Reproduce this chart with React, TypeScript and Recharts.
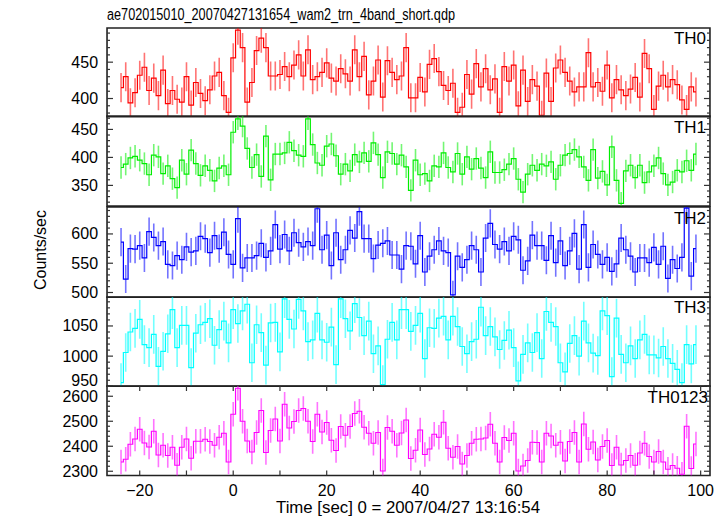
import { ComposedChart, Line, XAxis, YAxis, ErrorBar, ReferenceArea } from "recharts";

// bin centres [sec], 1 s bins
const times = [
  -24, -23, -22, -21, -20, -19, -18, -17, -16, -15, -14, -13, -12, -11, -10, -9, -8, -7, -6, -5, -4, -3, -2, -1,
  0, 1, 2, 3, 4, 5, 6, 7, 8, 9, 10, 11, 12, 13, 14, 15, 16, 17, 18, 19, 20, 21, 22, 23, 24, 25, 26, 27, 28, 29,
  30, 31, 32, 33, 34, 35, 36, 37, 38, 39, 40, 41, 42, 43, 44, 45, 46, 47, 48, 49, 50, 51, 52, 53, 54, 55, 56, 57,
  58, 59, 60, 61, 62, 63, 64, 65, 66, 67, 68, 69, 70, 71, 72, 73, 74, 75, 76, 77, 78, 79, 80, 81, 82, 83, 84, 85,
  86, 87, 88, 89, 90, 91, 92, 93, 94, 95, 96, 97, 98, 99,
];

const th0 = [
  415, 430, 394, 408, 432, 443, 411, 428, 404, 439, 393, 411, 399, 395, 430, 391, 422, 407, 397, 412, 431, 436, 404, 381,
  456, 494, 470, 395, 422, 466, 483, 470, 431, 431, 433, 444, 430, 446, 460, 431, 467, 426, 430, 436, 449, 428, 424, 441,
  434, 424, 467, 430, 458, 405, 424, 453, 402, 452, 436, 426, 431, 470,
  401, 401, 429, 409, 447, 455, 437, 418, 411, 421, 381, 388, 433, 406, 448, 416, 441, 412, 427, 381, 444, 424, 446, 390,
  439, 396, 426, 417, 377, 435, 396, 442, 453, 436, 424, 409, 416, 416, 463, 416, 422, 410, 446, 401, 426, 412, 404, 413,
  429, 402, 462, 441, 385, 417, 432, 416, 426, 419, 398, 385, 416, 409,
];
const th1 = [
  382, 388, 399, 402, 395, 389, 369, 404, 401, 371, 385, 362, 346, 395, 370, 413, 389, 368, 385, 377, 358, 381, 385, 369,
  445, 469, 456, 416, 382, 405, 366, 438, 360, 406, 406, 408, 427, 412, 404, 402, 469, 423, 390, 386, 420, 424, 403, 370,
  388, 376, 405, 392, 408, 393, 426, 405, 364, 410, 407, 388, 404, 383, 341,
  395, 369, 371, 358, 385, 383, 408, 382, 374, 407, 370, 401, 379, 398, 381, 364, 410, 373, 373, 378, 388, 398, 361, 338,
  370, 386, 377, 388, 385, 392, 361, 386, 404, 407, 414, 401, 383, 359, 414, 363, 375, 351, 419, 359, 318, 376, 386, 364,
  386, 355, 374, 385, 399, 371, 351, 356, 377, 374, 394, 377, 406,
];
const th2 = [
  586, 523, 575, 574, 580, 559, 604, 594, 580, 587, 548, 546, 563, 556, 578, 569, 571, 596, 592, 568, 597, 575, 603, 565,
  548, 626, 542, 559, 559, 563, 584, 560, 571, 616, 574, 599, 571, 602, 585, 578, 587, 580, 643, 573, 598, 546, 602, 556,
  573, 606, 593, 638, 592, 592, 558, 581, 584, 588, 564, 564, 540, 580,
  579, 549, 597, 535, 562, 573, 588, 571, 568, 496, 562, 543, 556, 580, 573, 535, 593, 618, 582, 574, 587, 571, 596, 590,
  538, 554, 598, 580, 580, 555, 597, 551, 588, 546, 571, 601, 540, 616, 543, 582, 565, 548, 560, 536, 549, 593, 573, 562,
  535, 559, 559, 551, 577, 548, 579, 524, 556, 541, 560, 644, 528, 575,
];
const th3 = [
  956, 1006, 1040, 1046, 1061, 1019, 1014, 1036, 983, 1008, 1037, 1077, 1014, 1051, 1051, 981, 1038, 1052, 1056, 1062, 1018, 1044, 1058, 1022,
  1077, 1054, 1075, 1086, 989, 1052, 1039, 985, 1055, 1056, 1007, 1095, 1061, 1045, 1094, 1075, 1024, 1027, 1071, 1027, 1023, 1048, 986, 1095,
  1062, 1042, 1087, 1064, 1034, 1058, 1004, 1017, 953, 1028, 1056, 1027, 1077, 1077,
  1041, 1051, 1071, 996, 1047, 1046, 1063, 1066, 1027, 1066, 1049, 1016, 1004, 1024, 1028, 1081, 1034, 1049, 1032, 1011, 1026, 1043, 1014, 959,
  1003, 1022, 1006, 1039, 996, 1074, 1056, 1049, 989, 974, 1021, 1034, 1000, 1058, 1022, 1005, 1001, 1075, 1067, 966, 1063, 1003, 989, 1017,
  996, 1027, 1036, 1002, 1002, 997, 1016, 996, 988, 978, 956, 1019, 987, 1019,
];
const th0123 = [
  2337, 2348, 2408, 2429, 2468, 2413, 2397, 2460, 2365, 2404, 2363, 2396, 2324, 2396, 2429, 2352, 2420, 2420, 2428, 2419, 2404, 2436, 2452, 2337,
  2528, 2632, 2500, 2421, 2377, 2455, 2543, 2375, 2463, 2509, 2421, 2568, 2473, 2499, 2543, 2551, 2500, 2419, 2528, 2457, 2495, 2424, 2383, 2479,
  2444, 2479, 2531, 2540, 2476, 2452, 2412, 2455, 2301, 2475, 2460, 2404, 2453, 2505,
  2351, 2384, 2465, 2367, 2389, 2448, 2436, 2496, 2392, 2356, 2399, 2329, 2363, 2412, 2428, 2429, 2433, 2488, 2412, 2337, 2435, 2423, 2452, 2301,
  2321, 2343, 2416, 2415, 2337, 2452, 2441, 2404, 2416, 2341, 2419, 2455, 2337, 2489, 2388, 2417, 2345, 2399, 2423, 2323, 2396, 2325, 2343, 2363,
  2324, 2373, 2412, 2359, 2337, 2379, 2337, 2308, 2323, 2312, 2288, 2480, 2311, 2409,
];

// typical 1-sigma error per band (counts/sec)
const th0Err = 20;
const th1Err = 20;
const th2Err = 24;
const th3Err = 32;
const th0123Err = 49;

const xTicks = [-20, -10, 0, 10, 20, 30, 40, 50, 60, 70, 80, 90, 100];
const xLabelTicks = [-20, 0, 20, 40, 60, 80, 100];

const th0Major = [400, 450];
const th0Minor = [380, 390, 400, 410, 420, 430, 440, 450, 460, 470, 480, 490];
const th1Major = [350, 400, 450];
const th1Minor = [320, 330, 340, 350, 360, 370, 380, 390, 400, 410, 420, 430, 440, 450, 460, 470];
const th2Major = [500, 550, 600];
const th2Minor = [500, 510, 520, 530, 540, 550, 560, 570, 580, 590, 600, 610, 620, 630, 640];
const th3Major = [950, 1000, 1050];
const th3Minor = [950, 960, 970, 980, 990, 1000, 1010, 1020, 1030, 1040, 1050, 1060, 1070, 1080, 1090];
const th0123Major = [2300, 2400, 2500, 2600];
const th0123Minor = [2300, 2320, 2340, 2360, 2380, 2400, 2420, 2440, 2460, 2480, 2500, 2520, 2540, 2560, 2580, 2600, 2620, 2640];

const X_DOMAIN: [number, number] = [-27, 102];
const PLOT_LEFT = 107;
const PLOT_RIGHT = 710;
const PLOT_W = PLOT_RIGHT - PLOT_LEFT;
const PAD = 10;
const FONT = "'Liberation Sans', Arial, Helvetica, sans-serif";

// panel frames: top edge and plot height, top to bottom
const panelTops = [27.7, 116.4, 206.5, 296.7, 386];
const panelHeights = [88.7, 90.1, 90.2, 89.3, 89.5];

interface PanelProps {
  idx: number;
  color: string;
  values: number[];
  err: number;
  domain: [number, number];
  majors: number[];
  minors: number[];
  showX?: boolean;
}

const Panel = ({ idx, color, values, err, domain, majors, minors, showX }: PanelProps) => {
  const top = panelTops[idx];
  const plotH = panelHeights[idx];
  const data = times.map((t, i) => ({ t, v: values[i], e: err }));
  const xAxisH = showX ? 34 : 0;
  const height = plotH + 2 * PAD + xAxisH;

  const XTick = (props: any) => {
    const { x, y, payload } = props;
    const v = payload.value;
    return (
      <g>
        <line x1={x} y1={y} x2={x} y2={y - 5} stroke="#333" strokeWidth={1.2} />
        <line x1={x} y1={y - plotH} x2={x} y2={y - plotH + 5} stroke="#333" strokeWidth={1.2} />
        {showX && xLabelTicks.includes(v) && (
          <text x={x} y={y + 20} textAnchor="middle" fontSize={16} fill="#000" fontFamily={FONT}>
            {v < 0 ? `\u2212${-v}` : v}
          </text>
        )}
      </g>
    );
  };

  const YTick = (props: any) => {
    const { x, y, payload } = props;
    const v = payload.value;
    const major = majors.includes(v);
    const len = major ? 6 : 3;
    // a label sitting on the bottom edge is lifted a little, as in the original
    const lift = v - domain[0] < (domain[1] - domain[0]) * 0.01 ? 6 : 0;
    return (
      <g>
        <line x1={x} y1={y} x2={x + len} y2={y} stroke="#333" strokeWidth={1.2} />
        <line x1={x + PLOT_W} y1={y} x2={x + PLOT_W - len} y2={y} stroke="#333" strokeWidth={1.2} />
        {major && (
          <text x={x - 9} y={y + 5.5 - lift} textAnchor="end" fontSize={16} fill="#000" fontFamily={FONT}>
            {v}
          </text>
        )}
      </g>
    );
  };

  return (
    <div className={`lc-panel-${idx}`} style={{ position: "absolute", left: 0, top: top - PAD }}>
      <ComposedChart width={727} height={height} data={data} margin={{ top: PAD, right: 727 - PLOT_RIGHT, bottom: PAD, left: 0 }}>
        <XAxis
          dataKey="t"
          type="number"
          domain={X_DOMAIN}
          ticks={xTicks}
          interval={0}
          height={xAxisH}
          axisLine={false}
          tickLine={false}
          tickSize={0}
          tickMargin={0}
          tick={XTick}
          allowDataOverflow
        />
        <YAxis
          type="number"
          domain={domain}
          ticks={minors}
          interval={0}
          width={PLOT_LEFT}
          axisLine={false}
          tickLine={false}
          tickSize={0}
          tickMargin={0}
          tick={YTick}
          allowDataOverflow
        />
        <Line
          dataKey="v"
          type="step"
          stroke={color}
          strokeWidth={1.2}
          dot={false}
          isAnimationActive={false}
        >
          <ErrorBar dataKey="e" direction="y" width={0} stroke={color} strokeWidth={1.6} strokeOpacity={0.55} isAnimationActive={false} />
        </Line>
        <ReferenceArea
          x1={X_DOMAIN[0]}
          x2={X_DOMAIN[1]}
          y1={domain[0]}
          y2={domain[1]}
          fill="none"
          fillOpacity={0}
          stroke="#222"
          strokeWidth={1.6}
          ifOverflow="visible"
        />
      </ComposedChart>
    </div>
  );
};

// keep curves and error bars inside their own panel
const clipCss = panelTops
  .map(
    (_, i) =>
      `.lc-panel-${i} .recharts-line, .lc-panel-${i} .recharts-errorBars, .lc-panel-${i} .recharts-errorBar { clip-path: url(#lc-clip-${i}); }`
  )
  .join("\n");

const App = () => {
  return (
    <div style={{ position: "absolute", left: 0, top: 0, width: 727, height: 516, background: "#fff", fontFamily: FONT }}>
      <style>{clipCss}</style>
      <svg width={0} height={0} style={{ position: "absolute" }}>
        <defs>
          {panelHeights.map((h, i) => (
            <clipPath key={i} id={`lc-clip-${i}`} clipPathUnits="userSpaceOnUse">
              <rect x={PLOT_LEFT} y={PAD} width={PLOT_W} height={h} />
            </clipPath>
          ))}
        </defs>
      </svg>
      <Panel idx={0} color="#ff0000" values={th0} err={th0Err} domain={[375, 497]} majors={th0Major} minors={th0Minor} />
      <Panel idx={1} color="#00ee00" values={th1} err={th1Err} domain={[313, 474]} majors={th1Major} minors={th1Minor} />
      <Panel idx={2} color="#0000ff" values={th2} err={th2Err} domain={[492, 646]} majors={th2Major} minors={th2Minor} />
      <Panel idx={3} color="#00ffff" values={th3} err={th3Err} domain={[950, 1098]} majors={th3Major} minors={th3Minor} />
      <Panel idx={4} color="#ff00ff" values={th0123} err={th0123Err} domain={[2283, 2641]} majors={th0123Major} minors={th0123Minor} showX />
      <svg width={727} height={516} style={{ position: "absolute", left: 0, top: 0, pointerEvents: "none" }} fontFamily={FONT}>
        <text x={107} y={20} fontSize={16} textLength={348} lengthAdjust="spacingAndGlyphs">
          ae702015010_20070427131654_wam2_trn_4band_short.qdp
        </text>
        <text x={706} y={44} fontSize={17} textAnchor="end">TH0</text>
        <text x={706} y={133} fontSize={17} textAnchor="end">TH1</text>
        <text x={706} y={224} fontSize={17} textAnchor="end">TH2</text>
        <text x={706} y={313} fontSize={17} textAnchor="end">TH3</text>
        <text x={708} y={403} fontSize={17} textAnchor="end">TH0123</text>
        <text x={408} y={513} fontSize={16} textAnchor="middle" textLength={264} lengthAdjust="spacingAndGlyphs">
          Time [sec] 0 = 2007/04/27 13:16:54
        </text>
        <text x={46} y={250} fontSize={16} textAnchor="middle" transform="rotate(-90 46 250)">Counts/sec</text>
      </svg>
    </div>
  );
};

export default App;
